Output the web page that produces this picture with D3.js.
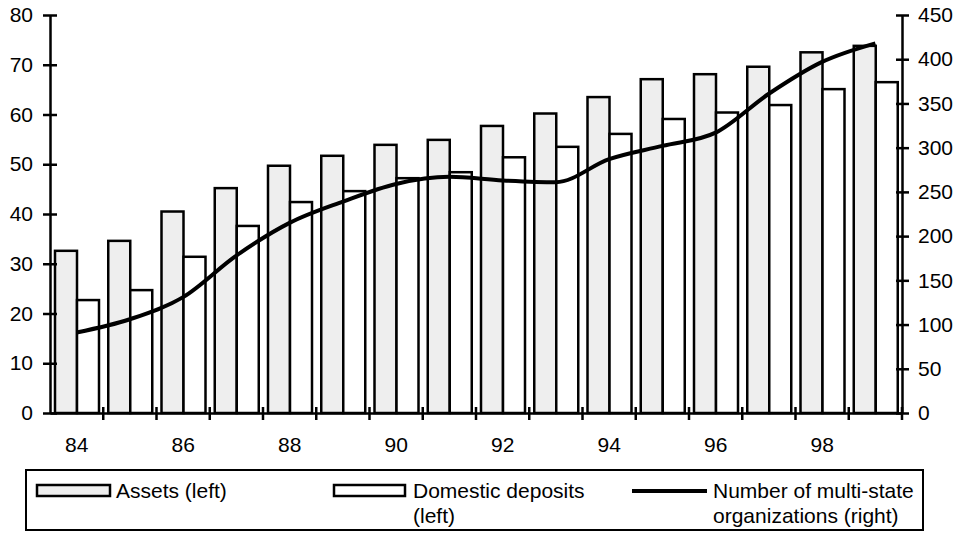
<!DOCTYPE html>
<html><head><meta charset="utf-8">
<script src="https://cdn.jsdelivr.net/npm/d3@7"></script>
<style>body{margin:0;background:#fff}svg{display:block}text{font-family:"Liberation Sans",Arial,sans-serif;fill:#000}</style>
</head><body>
<svg id="c" width="959" height="533"></svg>
<script>
const years = ["84","85","86","87","88","89","90","91","92","93","94","95","96","97","98","99"];
const assets = [32.6,34.6,40.5,45.2,49.7,51.7,53.9,54.9,57.7,60.2,63.5,67.1,68.1,69.6,72.5,73.8];
const deposits = [22.7,24.7,31.4,37.6,42.4,44.6,47.2,48.4,51.4,53.5,56.1,59.1,60.4,61.9,65.1,66.5];
const multiState = [91,106,131,178,215,239,259,267,263,261,287,302,317,361,397,418];
const leftTicks = [0,10,20,30,40,50,60,70,80];
const rightTicks = [0,50,100,150,200,250,300,350,400,450];
const xLabels = ["84","86","88","90","92","94","96","98"];

const FS = "21px";
const svg = d3.select("#c");
const L = 50, R = 902, T = 15, B = 413;
const x = d3.scaleBand().domain(years).range([L, R]).padding(0);
const xi = d3.scaleBand().domain(["a","d"]).range([5, 49]);
const yL = d3.scaleLinear().domain([0, 80]).range([B, T]);
const yR = d3.scaleLinear().domain([0, 450]).range([B, T]);

// bars
const g = svg.append("g");
years.forEach((yr, i) => {
  g.append("rect").attr("x", x(yr) + xi("a")).attr("width", xi.bandwidth())
    .attr("y", yL(assets[i])).attr("height", B - yL(assets[i]))
    .attr("fill", "#eeeeee").attr("stroke", "#000").attr("stroke-width", 2.5);
  g.append("rect").attr("x", x(yr) + xi("d")).attr("width", xi.bandwidth())
    .attr("y", yL(deposits[i])).attr("height", B - yL(deposits[i]))
    .attr("fill", "#fff").attr("stroke", "#000").attr("stroke-width", 2.5);
});

// line
const line = d3.line().x((d, i) => x(years[i]) + x.bandwidth() / 2).y(d => yR(d)).curve(d3.curveMonotoneX);
svg.append("path").datum(multiState).attr("d", line).attr("fill", "none")
  .attr("stroke", "#000").attr("stroke-width", 4).attr("stroke-linejoin", "round");

// axes
const axL = d3.axisLeft(yL).tickValues(leftTicks).tickSizeInner(7).tickSizeOuter(0).tickPadding(10);
const gl = svg.append("g").attr("transform", `translate(${L},0)`).call(axL);
const axR = d3.axisRight(yR).tickValues(rightTicks).tickSizeInner(7).tickSizeOuter(0).tickPadding(9);
const gr = svg.append("g").attr("transform", `translate(${R},0)`).call(axR);
const axB = d3.axisBottom(x).tickValues(xLabels).tickSize(0).tickPadding(0);
const gb = svg.append("g").attr("transform", `translate(0,${B})`).call(axB);
[gl, gr, gb].forEach(a => {
  a.selectAll(".domain").attr("stroke", "#000").attr("stroke-width", 2.5);
  a.selectAll("text").style("font-size", FS).style("font-family", '"Liberation Sans",Arial,sans-serif');
});
gb.selectAll("text").attr("y", 39).attr("dy", null);
gl.selectAll(".tick line").attr("x1", 7).attr("stroke-width", 2.5);
gr.selectAll(".tick line").attr("x1", -6).attr("stroke-width", 2.5);
// bottom cross ticks at category boundaries
const bounds = years.map(yr => x(yr)).concat([R]);
svg.append("g").selectAll("line").data(bounds.slice(1)).join("line")
  .attr("x1", d => d).attr("x2", d => d).attr("y1", B - 6).attr("y2", B + 7)
  .attr("stroke", "#000").attr("stroke-width", 2.5);

// legend
const lg = svg.append("g");
lg.append("rect").attr("x", 26).attr("y", 470).attr("width", 897).attr("height", 60)
  .attr("fill", "#fff").attr("stroke", "#000").attr("stroke-width", 2);
lg.append("rect").attr("x", 37).attr("y", 485).attr("width", 73).attr("height", 11)
  .attr("fill", "#eeeeee").attr("stroke", "#000").attr("stroke-width", 2.5);
lg.append("text").attr("x", 116).attr("y", 498).style("font-size", FS).text("Assets (left)");
lg.append("rect").attr("x", 334).attr("y", 485).attr("width", 71).attr("height", 11)
  .attr("fill", "#fff").attr("stroke", "#000").attr("stroke-width", 2.5);
const t2 = lg.append("text").attr("x", 413).attr("y", 498).style("font-size", FS);
t2.append("tspan").attr("x", 413).text("Domestic deposits");
t2.append("tspan").attr("x", 413).attr("dy", 25).text("(left)");
lg.append("line").attr("x1", 632).attr("x2", 707).attr("y1", 491).attr("y2", 491)
  .attr("stroke", "#000").attr("stroke-width", 4);
const t3 = lg.append("text").attr("x", 713).attr("y", 498).style("font-size", FS);
t3.append("tspan").attr("x", 713).text("Number of multi-state");
t3.append("tspan").attr("x", 713).attr("dy", 25).text("organizations (right)");
</script>
</body></html>
